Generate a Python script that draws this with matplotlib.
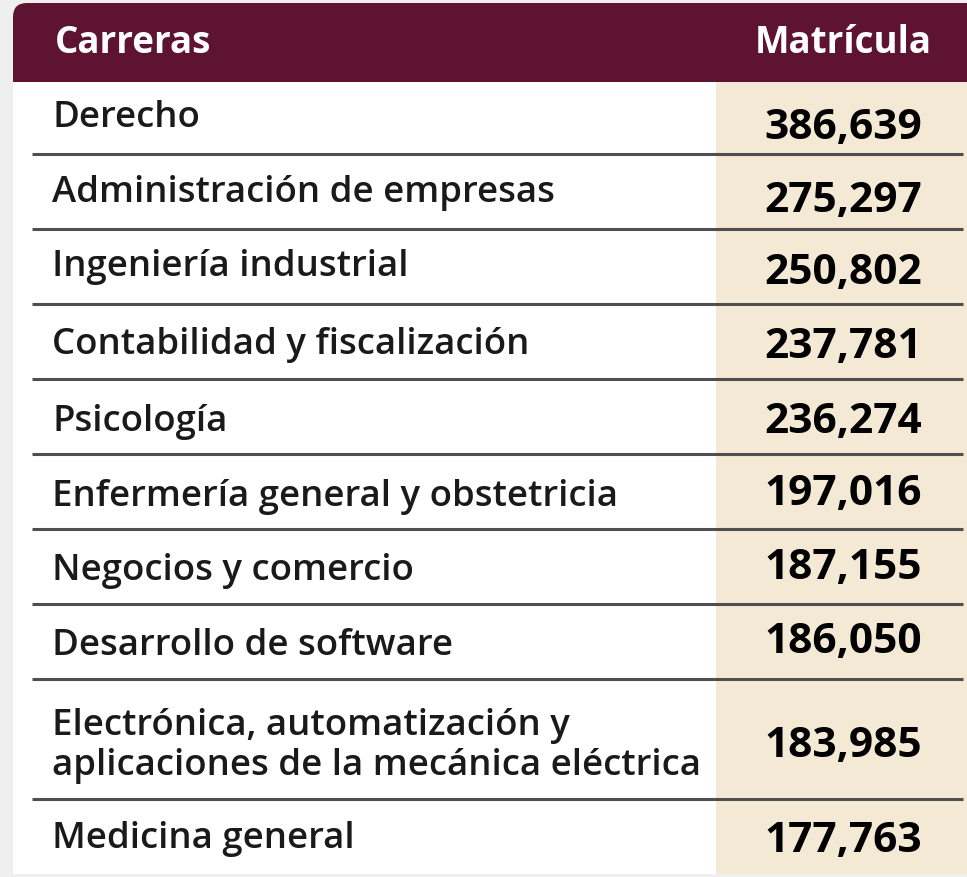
import matplotlib.pyplot as plt
from matplotlib.patches import FancyBboxPatch, Rectangle

plt.rcParams['font.family'] = ['Open Sans', 'DejaVu Sans']

# table data
header = ['Carreras', 'Matrícula']
carreras = [
    'Derecho',
    'Administración de empresas',
    'Ingeniería industrial',
    'Contabilidad y fiscalización',
    'Psicología',
    'Enfermería general y obstetricia',
    'Negocios y comercio',
    'Desarrollo de software',
    'Electrónica, automatización y\naplicaciones de la mecánica eléctrica',
    'Medicina general',
]
matricula = [386639, 275297, 250802, 237781, 236274, 197016, 187155, 186050, 183985, 177763]

# layout (pixels)
W, H = 967, 878
left, right = 13, 967
head_top, head_bot = 4, 83
grid_top = 80
row_h, line_h = 75, 45
col2_x = 716
label_x, num_x = 52, 922
label_nudge = [-3, -2.5, -4, -1, 1, 1, 0, 0, 2.5, -2]
num_nudge = [7, 4.5, 1.5, 1, 0.5, -2, -3.5, -4.5, 2, 0]

maroon = '#5E1332'
beige = '#F3E9D4'
sep_col = '#4F4F4F'
txt_col = '#1A1A1A'

fig = plt.figure(figsize=(W / 100, H / 100), dpi=100, facecolor='#EFEFEF')
ax = fig.add_axes([0, 0, 1, 1])
ax.set_xlim(0, W)
ax.set_ylim(H, 0)
ax.axis('off')

# header box with rounded corner
ax.add_patch(FancyBboxPatch((left, head_top), 1100, 150,
                            boxstyle='round,pad=0,rounding_size=14',
                            fc=maroon, ec='none', zorder=1))

# row boundaries
nlines = [c.count('\n') + 1 for c in carreras]
bounds = [grid_top]
for n in nlines:
    bounds.append(bounds[-1] + row_h + (n - 1) * line_h)
table_bot = bounds[-1]

ax.add_patch(Rectangle((left, head_bot), right - left, table_bot - head_bot,
                       fc='white', ec='none', zorder=2))
ax.add_patch(Rectangle((col2_x, head_bot), right - col2_x, table_bot - head_bot,
                       fc=beige, ec='none', zorder=3))

ax.text(55, 53, header[0], color='white', fontsize=26.5, fontweight='bold',
        ha='left', va='baseline', zorder=5)
ax.text(932, 53, header[1], color='white', fontsize=26.5, fontweight='bold',
        ha='right', va='baseline', zorder=5)

for i, (name, val) in enumerate(zip(carreras, matricula)):
    top, bot = bounds[i], bounds[i + 1]
    yc = (top + bot) / 2
    lines = name.split('\n')
    n = len(lines)
    for j, line in enumerate(lines):
        yb = yc + (j - (n - 1) / 2) * 40 + 12.5 + label_nudge[i]
        ax.text(label_x, yb, line, color=txt_col, fontsize=26.3, fontweight='semibold',
                ha='left', va='baseline', zorder=5)
    ax.text(num_x, yc + 14.75 + num_nudge[i], f'{val:,}', color='black',
            fontsize=30.5, fontweight='bold', ha='right', va='baseline', zorder=5)
    if i < len(carreras) - 1:
        ax.plot([32, 963], [bot, bot], color=sep_col, lw=2.2,
                solid_capstyle='butt', zorder=4)

fig.savefig('out.png', dpi=100)
